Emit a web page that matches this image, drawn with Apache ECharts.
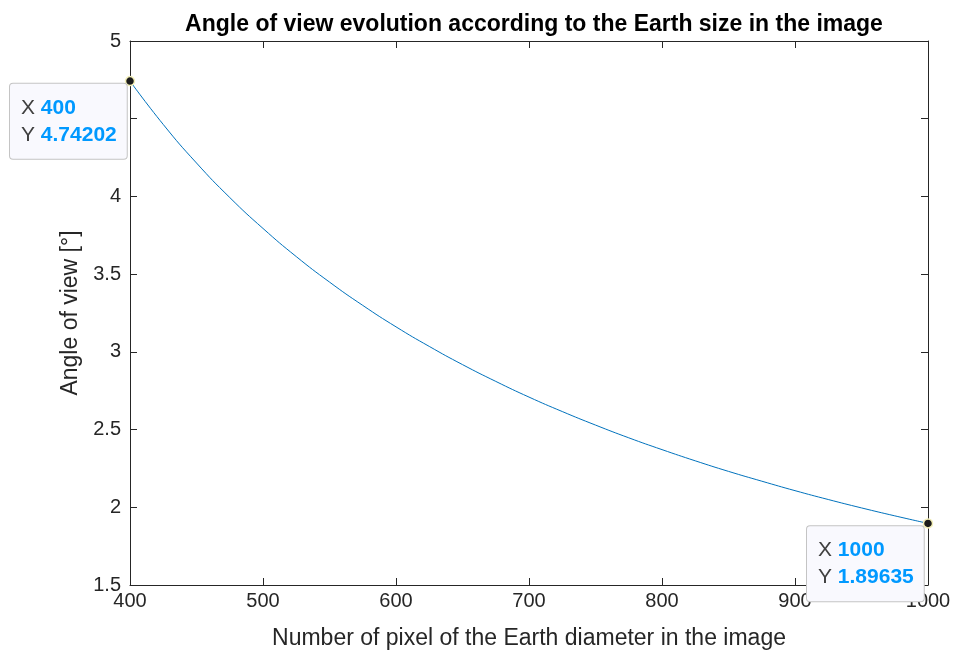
<!DOCTYPE html>
<html>
<head>
<meta charset="utf-8">
<script src="https://cdn.jsdelivr.net/npm/echarts@6/dist/echarts.min.js"></script>
<style>
  html, body { margin: 0; padding: 0; background: #fff; }
  #chart { width: 953px; height: 652px; }
</style>
</head>
<body>
<div id="chart"></div>
<script>
// pixel count of the Earth diameter (x) and angle of view in degrees (y)
var pixels = [400, 425, 450, 475, 500, 525, 550, 575, 600, 625, 650, 675, 700,
              725, 750, 775, 800, 825, 850, 875, 900, 925, 950, 975, 1000];
var angles = [4.74202, 4.463, 4.215, 3.993, 3.794, 3.613, 3.449, 3.299, 3.161, 3.035, 2.918, 2.810, 2.709,
              2.616, 2.529, 2.447, 2.371, 2.299, 2.231, 2.168, 2.107, 2.050, 1.996, 1.945, 1.89635];
var xTicks = [400, 500, 600, 700, 800, 900, 1000];
var yTicks = [1.5, 2, 2.5, 3, 3.5, 4, 4.5, 5];
// the two data tips
var tipX = ['400', '1000'];
var tipY = ['4.74202', '1.89635'];

var FONT = 'Liberation Sans, Arial, Helvetica, sans-serif';
var AXIS = '#262626';

var chart = echarts.init(document.getElementById('chart'), null, { renderer: 'canvas' });

var data = pixels.map(function (p, i) { return [p, angles[i]]; });

function tip(i, offsetPos) {
  var last = i === 0 ? 0 : pixels.length - 1;
  return {
    coord: [pixels[last], angles[last]],
    label: {
      show: true,
      position: offsetPos,
      align: 'right',
      verticalAlign: 'top',
      formatter: '{k|X }{v|' + tipX[i] + '}\n{k|Y }{v|' + tipY[i] + '}',
      backgroundColor: '#f9f9fe',
      borderColor: '#c4c4c4',
      borderWidth: 1,
      borderRadius: 3,
      padding: [11, 10, 10, 11],
      rich: {
        k: { fontFamily: FONT, fontSize: 21, color: '#404040', lineHeight: 27, align: 'left' },
        v: { fontFamily: FONT, fontSize: 21, fontWeight: 'bold', color: '#0099ff', lineHeight: 27, align: 'left' }
      }
    }
  };
}

var option = {
  backgroundColor: '#ffffff',
  animation: false,
  title: {
    text: 'Angle of view evolution according to the Earth size in the image',
    left: 529,
    textAlign: 'center',
    top: 8,
    textStyle: { fontFamily: FONT, fontSize: 23, fontWeight: 'bold', color: '#000' }
  },
  grid: { left: 130, right: 25, top: 41, bottom: 67, outerBoundsMode: 'none' },
  xAxis: [
    {
      type: 'value', min: 400, max: 1000, interval: 100,
      name: 'Number of pixel of the Earth diameter in the image',
      nameLocation: 'middle', nameGap: 42,
      nameTextStyle: { fontFamily: FONT, fontSize: 23, color: AXIS },
      axisLine: { show: true, lineStyle: { color: AXIS, width: 1 } },
      axisTick: { show: true, inside: true, length: 7, lineStyle: { color: AXIS } },
      axisLabel: {
        fontFamily: FONT, fontSize: 20, color: AXIS, margin: 6,
        formatter: function (v) { return xTicks.indexOf(v) >= 0 ? String(v) : ''; }
      },
      splitLine: { show: false }
    },
    {
      type: 'value', min: 400, max: 1000, interval: 100, position: 'top',
      axisLine: { show: true, lineStyle: { color: AXIS, width: 1 } },
      axisTick: { show: true, inside: true, length: 7, lineStyle: { color: AXIS } },
      axisLabel: { show: false },
      splitLine: { show: false }
    }
  ],
  yAxis: [
    {
      type: 'value', min: 1.5, max: 5, interval: 0.5,
      name: 'Angle of view [°]',
      nameLocation: 'middle', nameGap: 47,
      nameTextStyle: { fontFamily: FONT, fontSize: 23, color: AXIS },
      axisLine: { show: true, lineStyle: { color: AXIS, width: 1 } },
      axisTick: { show: true, inside: true, length: 7, lineStyle: { color: AXIS } },
      axisLabel: {
        fontFamily: FONT, fontSize: 20, color: AXIS, margin: 9, padding: [3, 0, 0, 0],
        formatter: function (v) { return yTicks.indexOf(v) >= 0 ? String(v) : ''; }
      },
      splitLine: { show: false }
    },
    {
      type: 'value', min: 1.5, max: 5, interval: 0.5, position: 'right',
      axisLine: { show: true, lineStyle: { color: AXIS, width: 1 } },
      axisTick: { show: true, inside: true, length: 7, lineStyle: { color: AXIS } },
      axisLabel: { show: false },
      splitLine: { show: false }
    }
  ],
  series: [
    {
      type: 'line',
      data: data,
      smooth: true,
      showSymbol: false,
      lineStyle: { color: '#0072bd', width: 1 },
      markPoint: {
        symbol: 'circle',
        symbolSize: 9,
        itemStyle: { color: '#1c1c1c', borderColor: '#f3efb8', borderWidth: 1.5 },
        data: [tip(0, [2, 8]), tip(1, [1, 8])]
      }
    }
  ]
};

chart.setOption(option);
</script>
</body>
</html>
